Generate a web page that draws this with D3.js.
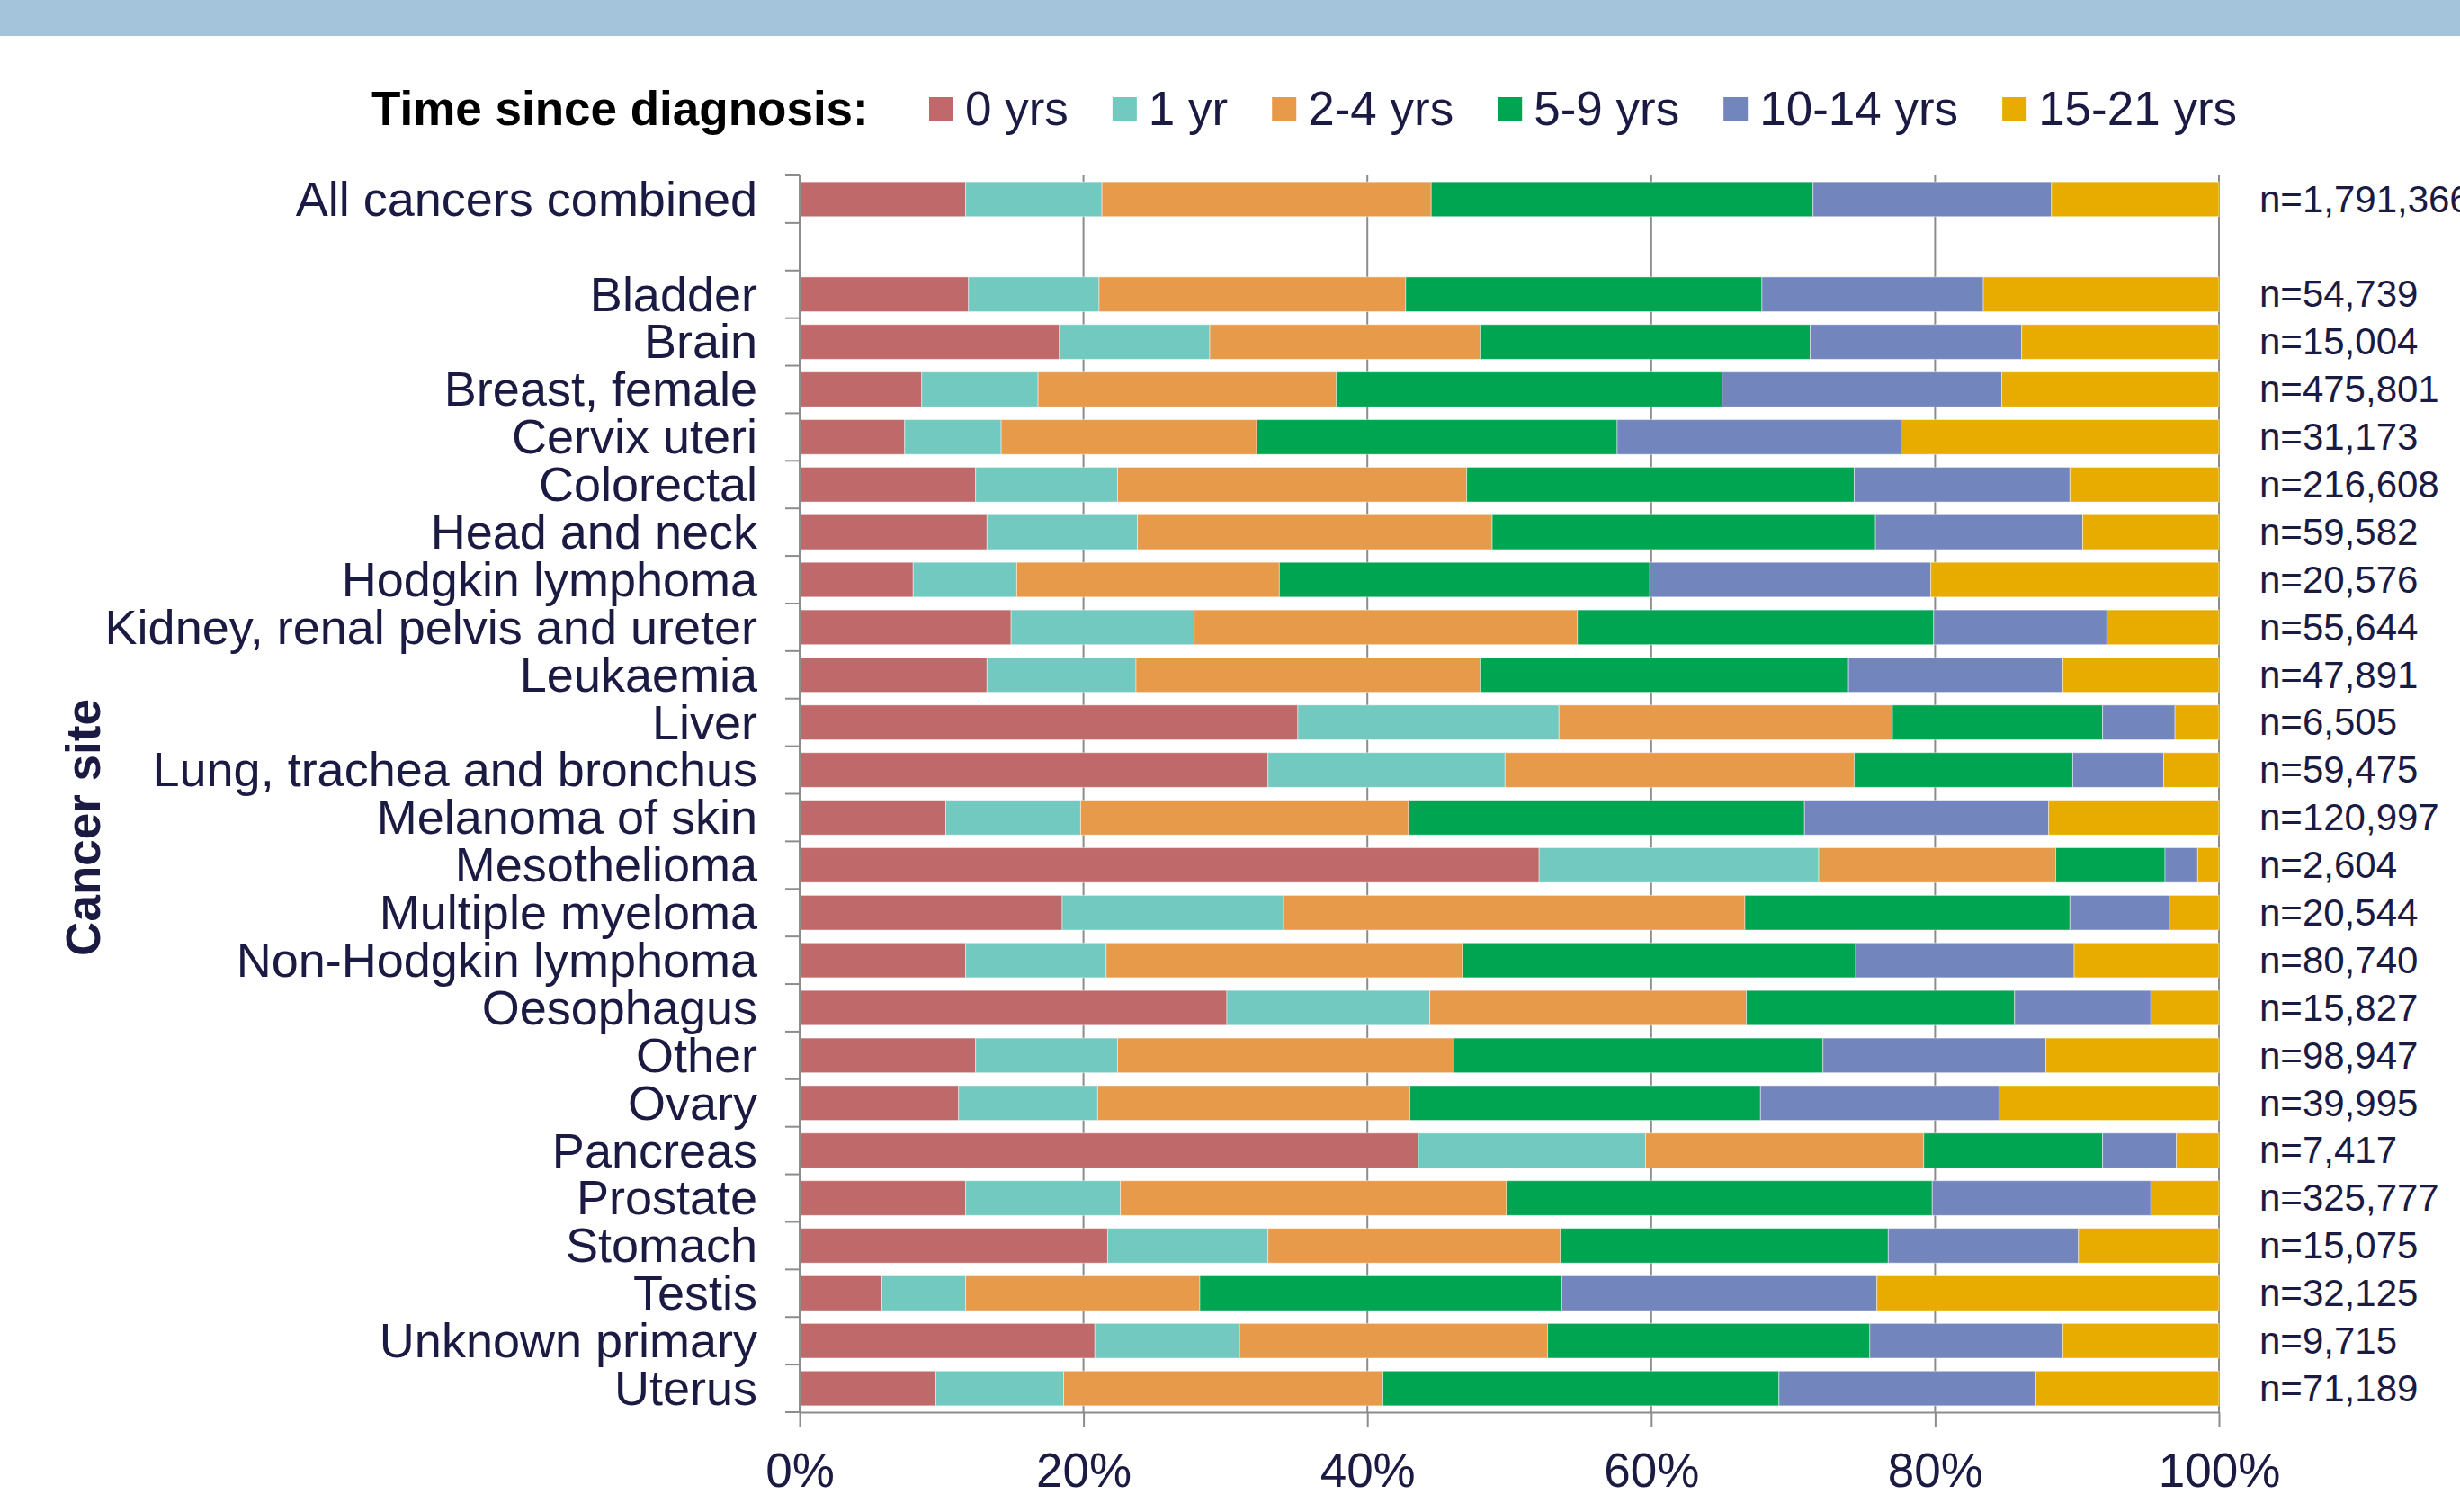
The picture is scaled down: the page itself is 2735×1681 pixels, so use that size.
<!DOCTYPE html>
<html>
<head>
<meta charset="utf-8">
<script src="https://cdn.jsdelivr.net/npm/d3@7"></script>
<style>
  body { margin: 0; background: #ffffff; }
  svg { display: block; }
</style>
</head>
<body>
<svg id="chart" width="2735" height="1681"></svg>
<script>
// ---------------- DATA ----------------
const categories = [
  "All cancers combined",
  "Bladder", "Brain", "Breast, female", "Cervix uteri", "Colorectal",
  "Head and neck", "Hodgkin lymphoma", "Kidney, renal pelvis and ureter",
  "Leukaemia", "Liver", "Lung, trachea and bronchus", "Melanoma of skin",
  "Mesothelioma", "Multiple myeloma", "Non-Hodgkin lymphoma", "Oesophagus",
  "Other", "Ovary", "Pancreas", "Prostate", "Stomach", "Testis",
  "Unknown primary", "Uterus"
];
const nLabels = [
  "n=1,791,366",
  "n=54,739", "n=15,004", "n=475,801", "n=31,173", "n=216,608",
  "n=59,582", "n=20,576", "n=55,644", "n=47,891", "n=6,505",
  "n=59,475", "n=120,997", "n=2,604", "n=20,544", "n=80,740",
  "n=15,827", "n=98,947", "n=39,995", "n=7,417", "n=325,777",
  "n=15,075", "n=32,125", "n=9,715", "n=71,189"
];
const seriesNames = ["0 yrs", "1 yr", "2-4 yrs", "5-9 yrs", "10-14 yrs", "15-21 yrs"];

// percentage of survivors per time since diagnosis
const yrs0     = [11.7, 11.9, 18.3,  8.6,  7.4, 12.4, 13.2,  8.0, 14.9, 13.2, 35.1, 33.0, 10.3, 52.1, 18.5, 11.7, 30.1, 12.4, 11.2, 43.6, 11.7, 21.7,  5.8, 20.8,  9.6];
const yr1      = [ 9.6,  9.2, 10.6,  8.2,  6.8, 10.0, 10.6,  7.3, 12.9, 10.5, 18.4, 16.7,  9.5, 19.7, 15.6,  9.9, 14.3, 10.0,  9.8, 16.0, 10.9, 11.3,  5.9, 10.2,  9.0];
const yrs2_4   = [23.2, 21.6, 19.1, 21.0, 18.0, 24.6, 25.0, 18.5, 27.0, 24.3, 23.5, 24.6, 23.1, 16.7, 32.5, 25.1, 22.3, 23.7, 22.0, 19.6, 27.2, 20.6, 16.5, 21.7, 22.5];
const yrs5_9   = [26.9, 25.1, 23.2, 27.2, 25.4, 27.3, 27.0, 26.1, 25.1, 25.9, 14.8, 15.4, 27.9,  7.7, 22.9, 27.7, 18.9, 26.0, 24.7, 12.6, 30.0, 23.1, 25.5, 22.7, 27.9];
const yrs10_14 = [16.8, 15.6, 14.9, 19.7, 20.0, 15.2, 14.6, 19.8, 12.2, 15.1,  5.1,  6.4, 17.2,  2.3,  7.0, 15.4,  9.6, 15.7, 16.8,  5.2, 15.4, 13.4, 22.2, 13.6, 18.1];
const yrs15_21 = [11.8, 16.6, 13.9, 15.3, 22.4, 10.5,  9.6, 20.3,  7.9, 11.0,  3.1,  3.9, 12.0,  1.5,  3.5, 10.2,  4.8, 12.2, 15.5,  3.0,  4.8,  9.9, 24.1, 11.0, 12.9];

const xTickValues = [0, 0.2, 0.4, 0.6, 0.8, 1.0];
const legendTitle = "Time since diagnosis:";
const yAxisTitle = "Cancer site";

// ---------------- STYLE ----------------
const colors = ["#BF696A", "#71C9BF", "#E89A4B", "#00A551", "#7385BD", "#E8AC00"];
const textColor = "#1a1a42";
const gridColor = "#8c8c8c";
const fontFamily = "'Liberation Sans', Arial, Helvetica, sans-serif";

const W = 2735, H = 1681;
const margin = { left: 889, right: W - 2467, top: 195, bottom: H - 1570 };

const svg = d3.select("#chart");

// top decorative band
svg.append("rect").attr("x", 0).attr("y", 0).attr("width", W).attr("height", 40).attr("fill", "#A3C4DA");

// ---------------- SCALES ----------------
const GAP = "__gap";
const yDomain = [categories[0], GAP, ...categories.slice(1)];

const x = d3.scaleLinear().domain([0, 1]).range([margin.left, W - margin.right]);
const pad = 0.27;
const y = d3.scaleBand().domain(yDomain).range([margin.top, H - margin.bottom])
  .paddingInner(pad).paddingOuter(pad / 2);

const seriesArrays = [yrs0, yr1, yrs2_4, yrs5_9, yrs10_14, yrs15_21];
const rows = categories.map((c, i) => {
  const r = { cat: c };
  seriesNames.forEach((s, k) => r[s] = seriesArrays[k][i]);
  return r;
});
const stacked = d3.stack().keys(seriesNames).offset(d3.stackOffsetExpand)(rows);

// ---------------- GRIDLINES ----------------
svg.append("g").selectAll("line").data(xTickValues.filter(d => d > 0)).join("line")
  .attr("x1", d => x(d)).attr("x2", d => x(d))
  .attr("y1", margin.top).attr("y2", H - margin.bottom)
  .attr("stroke", gridColor).attr("stroke-width", 2);

// ---------------- BARS ----------------
svg.append("g").selectAll("g").data(stacked).join("g")
  .attr("fill", (d, i) => colors[i])
  .selectAll("rect").data(d => d).join("rect")
  .attr("x", d => x(d[0]))
  .attr("width", d => x(d[1]) - x(d[0]))
  .attr("y", d => y(d.data.cat))
  .attr("height", y.bandwidth())
  .attr("stroke", "rgba(255,255,255,0.45)")
  .attr("stroke-width", 1);

// ---------------- Y AXIS (labels + boundary ticks) ----------------
const yAxis = svg.append("g").attr("transform", `translate(${margin.left},0)`)
  .call(d3.axisLeft(y).tickSize(0).tickPadding(47).tickFormat(d => d === GAP ? "" : d));
yAxis.select(".domain").remove();
yAxis.selectAll("text")
  .attr("font-family", fontFamily).attr("font-size", 54)
  .attr("fill", textColor).attr("dy", "0.34em");

const boundaries = d3.range(yDomain.length + 1).map(i => y.range()[0] + i * y.step());
svg.append("g").selectAll("line").data(boundaries).join("line")
  .attr("x1", margin.left - 16).attr("x2", margin.left)
  .attr("y1", d => d).attr("y2", d => d)
  .attr("stroke", gridColor).attr("stroke-width", 2);
svg.append("line")
  .attr("x1", margin.left).attr("x2", margin.left)
  .attr("y1", margin.top).attr("y2", H - margin.bottom)
  .attr("stroke", gridColor).attr("stroke-width", 2);

// ---------------- X AXIS ----------------
const xAxis = svg.append("g").attr("transform", `translate(0,${H - margin.bottom})`)
  .call(d3.axisBottom(x).tickValues(xTickValues).tickFormat(d3.format(".0%"))
    .tickSize(16).tickSizeOuter(0).tickPadding(29));
xAxis.select(".domain").attr("stroke", gridColor).attr("stroke-width", 2);
xAxis.selectAll(".tick line").attr("stroke", gridColor).attr("stroke-width", 2);
xAxis.selectAll("text").attr("font-family", fontFamily).attr("font-size", 53).attr("fill", textColor);

// ---------------- N LABELS ----------------
svg.append("g").selectAll("text").data(categories).join("text")
  .attr("x", W - margin.right + 45)
  .attr("y", d => y(d) + y.bandwidth() / 2)
  .attr("dy", "0.34em")
  .attr("font-family", fontFamily).attr("font-size", 42).attr("fill", textColor)
  .text((d, i) => nLabels[i]);

// ---------------- Y TITLE ----------------
svg.append("text")
  .attr("transform", "translate(111,920) rotate(-90)")
  .attr("text-anchor", "middle")
  .attr("font-family", fontFamily).attr("font-size", 53).attr("font-weight", "bold")
  .attr("fill", textColor)
  .text(yAxisTitle);

// ---------------- LEGEND ----------------
const legend = svg.append("g");
const legY = 139;
const title = legend.append("text").attr("x", 413).attr("y", legY)
  .attr("font-family", fontFamily).attr("font-size", 53).attr("font-weight", "bold")
  .attr("fill", "#000").text(legendTitle);
let cx = 1033;
seriesNames.forEach((s, i) => {
  legend.append("rect").attr("x", cx).attr("y", 108).attr("width", 27).attr("height", 27).attr("fill", colors[i]);
  const t = legend.append("text").attr("x", cx + 40).attr("y", legY)
    .attr("font-family", fontFamily).attr("font-size", 53).attr("fill", textColor).text(s);
  cx += 40 + t.node().getComputedTextLength() + 49;
});
</script>
</body>
</html>
